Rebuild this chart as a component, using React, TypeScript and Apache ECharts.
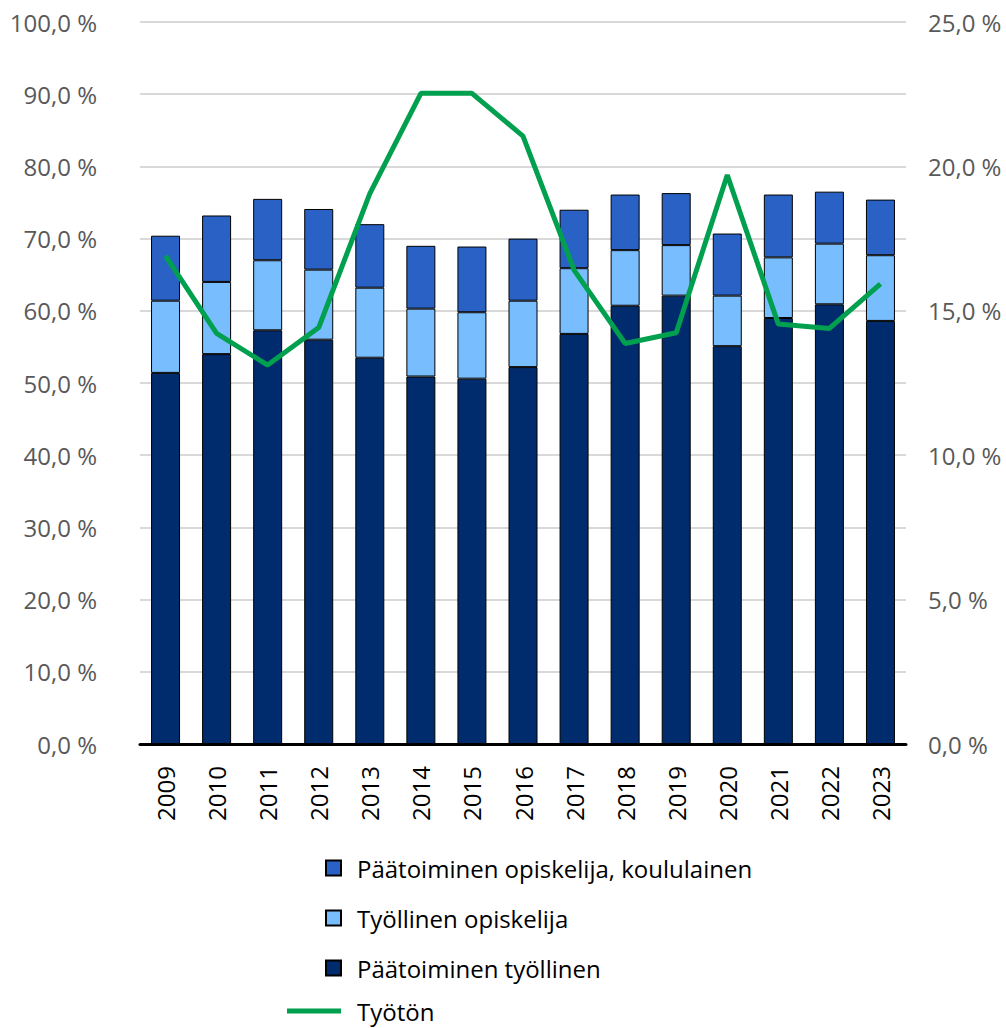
import React, { useEffect, useRef } from "react";
import * as echarts from "echarts";

const years = ["2009","2010","2011","2012","2013","2014","2015","2016","2017","2018","2019","2020","2021","2022","2023"];
// Päätoiminen työllinen (bottom segment)
const fullTimeEmployed = [51.4, 54.0, 57.3, 56.0, 53.5, 50.9, 50.6, 52.2, 56.8, 60.7, 62.1, 55.1, 59.0, 60.9, 58.6];
// Työllinen opiskelija (middle segment)
const employedStudent = [10.0, 10.0, 9.7, 9.7, 9.7, 9.4, 9.2, 9.2, 9.1, 7.7, 7.0, 7.0, 8.4, 8.4, 9.1];
// Päätoiminen opiskelija, koululainen (top segment)
const fullTimeStudent = [9.0, 9.2, 8.5, 8.4, 8.8, 8.7, 9.1, 8.6, 8.1, 7.7, 7.2, 8.6, 8.7, 7.2, 7.7];
// Työtön (right axis)
const unemployed = [16.9, 14.22, 13.12, 14.42, 19.06, 22.53, 22.53, 21.05, 16.41, 13.87, 14.24, 19.7, 14.54, 14.39, 15.93];

const NAME_TOP = "Päätoiminen opiskelija, koululainen";
const NAME_MID = "Työllinen opiskelija";
const NAME_BOT = "Päätoiminen työllinen";
const NAME_LINE = "Työtön";

const FONT = "Open Sans";
const fmt = (v: number) => v.toFixed(1).replace(".", ",") + " %";

export default function App() {
  const ref = useRef<HTMLDivElement>(null);
  useEffect(() => {
    document.body.style.margin = "0";
    const chart = echarts.init(ref.current!, null, { renderer: "svg" });
    const barBase = {
      type: "bar",
      stack: "total",
      barWidth: 29,
      yAxisIndex: 0,
    } as any;
    const legendText = { fontFamily: FONT, fontSize: 24, color: "#000", padding: [0, 0, 0, 11] };
    chart.setOption({
      animation: false,
      textStyle: { fontFamily: FONT },
      grid: { left: 140, right: 100, top: 22, bottom: 284 },
      legend: [
        {
          orient: "vertical",
          left: 320,
          top: 848,
          itemWidth: 15,
          itemHeight: 15,
          itemGap: 20,
          icon: "rect",
          selectedMode: false,
          textStyle: { ...legendText, lineHeight: 30 },
          data: [NAME_TOP, NAME_MID, NAME_BOT],
        },
        {
          orient: "vertical",
          left: 282,
          top: 994,
          itemWidth: 54,
          itemHeight: 5,
          icon: "rect",
          selectedMode: false,
          itemStyle: { color: "#00a04f", borderWidth: 0 },
          textStyle: { ...legendText, lineHeight: 24 },
          data: [NAME_LINE],
        },
      ],
      xAxis: {
        type: "category",
        data: years,
        axisLine: { lineStyle: { color: "#000", width: 3 } },
        axisTick: { show: false },
        axisLabel: { rotate: 90, margin: 22, fontSize: 24, color: "#000", fontFamily: FONT },
      },
      yAxis: [
        {
          type: "value",
          min: 0,
          max: 100,
          interval: 10,
          axisLine: { show: false },
          axisTick: { show: false },
          axisLabel: { formatter: fmt, fontSize: 24, color: "#595959", margin: 43, fontFamily: FONT },
          splitLine: { lineStyle: { color: "#d9d9d9", width: 2 } },
        },
        {
          type: "value",
          min: 0,
          max: 25,
          interval: 5,
          position: "right",
          axisLine: { show: false },
          axisTick: { show: false },
          axisLabel: { formatter: fmt, fontSize: 24, color: "#595959", margin: 22, fontFamily: FONT },
          splitLine: { show: false },
        },
      ],
      series: [
        { ...barBase, name: NAME_BOT, data: fullTimeEmployed, itemStyle: { color: "#002b6c", borderColor: "#000", borderWidth: 1 } },
        { ...barBase, name: NAME_MID, data: employedStudent, itemStyle: { color: "#78bdfd", borderColor: "#000", borderWidth: 1 } },
        { ...barBase, name: NAME_TOP, data: fullTimeStudent, itemStyle: { color: "#2962c4", borderColor: "#000", borderWidth: 1 } },
        {
          type: "line",
          name: NAME_LINE,
          yAxisIndex: 1,
          data: unemployed,
          symbol: "none",
          lineStyle: { color: "#00a04f", width: 5 },
          itemStyle: { color: "#00a04f" },
          z: 5,
        },
      ],
    });
    return () => chart.dispose();
  }, []);
  return <div ref={ref} style={{ width: 1006, height: 1028 }} />;
}
